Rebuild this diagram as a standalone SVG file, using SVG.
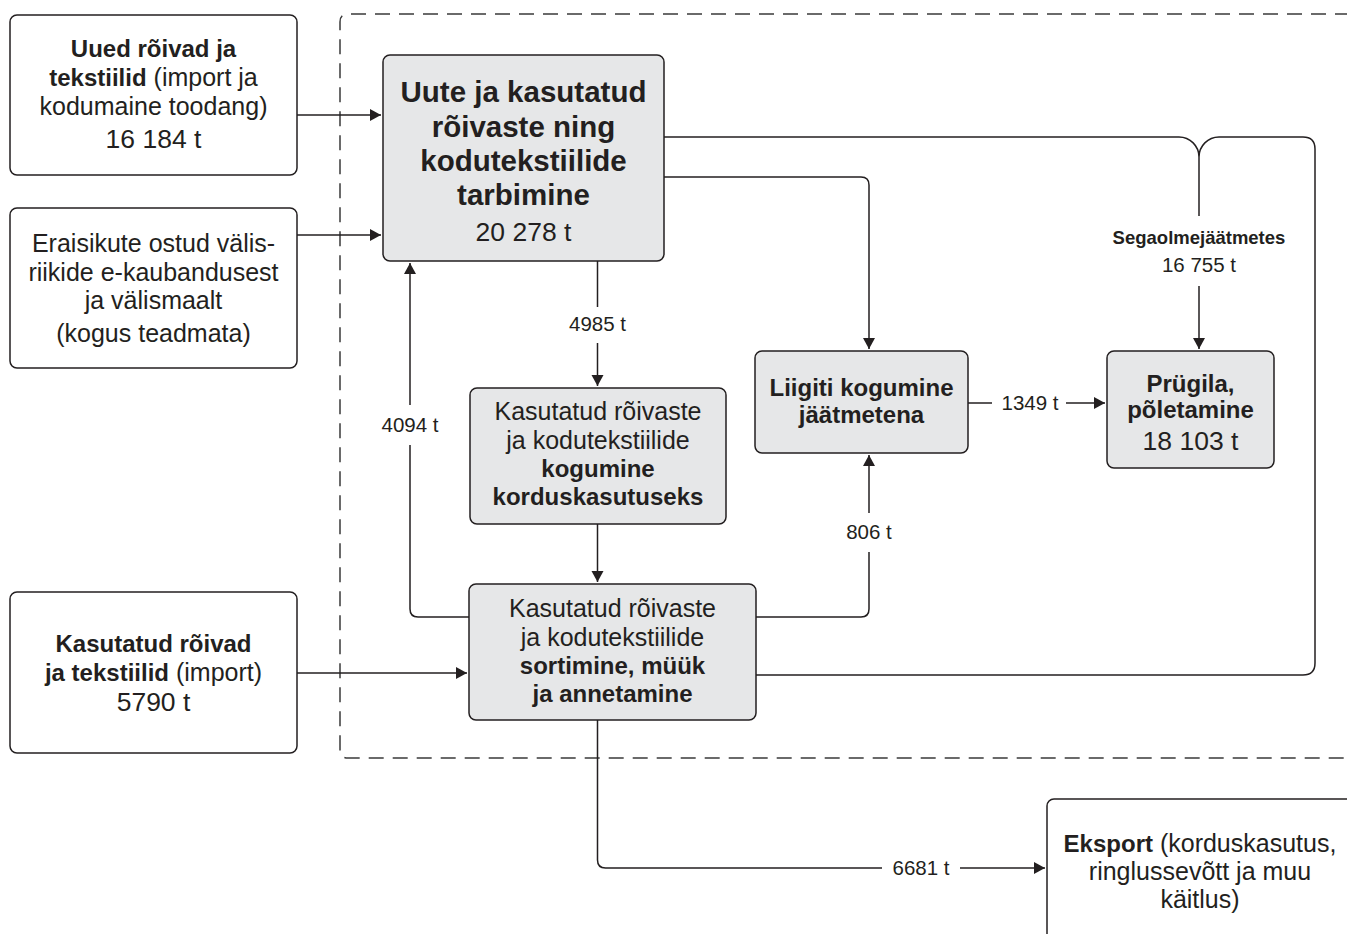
<svg xmlns="http://www.w3.org/2000/svg" width="1347" height="934" viewBox="0 0 1347 934">
<style>
text{font-family:"Liberation Sans",Arial,sans-serif;fill:#231f20;text-anchor:middle}
.b{font-weight:bold}
.r{font-size:25px}
.bb{font-size:24px;font-weight:bold}
.num{font-size:26.5px}
.lbl{font-size:20.5px}
.title{font-size:29.5px;font-weight:bold}
.white{fill:#ffffff;stroke:#231f20;stroke-width:1.5}
.grey{fill:#e6e7e8;stroke:#231f20;stroke-width:1.5}
.c{fill:none;stroke:#231f20;stroke-width:1.5}
.dash{fill:none;stroke:#3a3a3a;stroke-width:1.5;stroke-dasharray:15 9}
</style>
<defs>
<marker id="arr" markerUnits="userSpaceOnUse" markerWidth="13" markerHeight="13" refX="11" refY="6" orient="auto">
<path d="M0,0 L11,6 L0,12 z" fill="#231f20"/>
</marker>
</defs>
<rect width="1347" height="934" fill="#ffffff"/>
<path class="dash" d="M1350,14 H348 Q340,14 340,22 V750 Q340,758 348,758 H1350"/>

<g id="connectors">
<path class="c" d="M297,115 H381" marker-end="url(#arr)"/>
<path class="c" d="M297,235 H381" marker-end="url(#arr)"/>
<path class="c" d="M297,673 H467" marker-end="url(#arr)"/>
<path class="c" d="M664,137 H1179 A20,20 0 0 1 1199,157 A20,20 0 0 1 1219,137 H1303 Q1315,137 1315,149 V663 Q1315,675 1303,675 H756"/>
<path class="c" d="M1199,157 V216"/>
<path class="c" d="M1199,286 V349" marker-end="url(#arr)"/>
<path class="c" d="M664,177 H861 Q869,177 869,185 V349" marker-end="url(#arr)"/>
<path class="c" d="M597.5,261 V307"/>
<path class="c" d="M597.5,343 V386" marker-end="url(#arr)"/>
<path class="c" d="M597.5,524 V582" marker-end="url(#arr)"/>
<path class="c" d="M469,617 H418 Q410,617 410,609 V445"/>
<path class="c" d="M410,405 V263" marker-end="url(#arr)"/>
<path class="c" d="M756,617 H861 Q869,617 869,609 V552"/>
<path class="c" d="M869,513 V455" marker-end="url(#arr)"/>
<path class="c" d="M968,403 H992"/>
<path class="c" d="M1066,403 H1105" marker-end="url(#arr)"/>
<path class="c" d="M597.5,720 V860 Q597.5,868 605.5,868 H882"/>
<path class="c" d="M960,868 H1045" marker-end="url(#arr)"/>
<text class="lbl" x="597.5" y="331">4985 t</text>
<text class="lbl" x="410" y="432">4094 t</text>
<text class="lbl" x="869" y="539">806 t</text>
<text class="lbl" x="1030" y="410">1349 t</text>
<text class="lbl" x="921" y="875">6681 t</text>
<text class="b" x="1199" y="244" style="font-size:18.5px">Segaolmejäätmetes</text>
<text class="lbl" x="1199" y="272">16 755 t</text>
</g>

<g id="uued">
<rect class="white" x="10" y="15" width="287" height="160" rx="7"/>
<text class="bb" x="153.5" y="57">Uued rõivad ja</text>
<text class="r" x="153.5" y="86"><tspan class="bb">tekstiilid</tspan> (import ja</text>
<text class="r" x="153.5" y="115">kodumaine toodang)</text>
<text class="num" x="153.5" y="148">16 184 t</text>
</g>

<g id="eraisikute">
<rect class="white" x="10" y="208" width="287" height="160" rx="7"/>
<text class="r" x="153.5" y="252">Eraisikute ostud välis-</text>
<text class="r" x="153.5" y="281">riikide e-kaubandusest</text>
<text class="r" x="153.5" y="309">ja välismaalt</text>
<text class="r" x="153.5" y="342">(kogus teadmata)</text>
</g>

<g id="kasutatud-import">
<rect class="white" x="10" y="592" width="287" height="161" rx="7"/>
<text class="bb" x="153.5" y="652">Kasutatud rõivad</text>
<text class="r" x="153.5" y="681"><tspan class="bb">ja tekstiilid</tspan> (import)</text>
<text class="num" x="153.5" y="711">5790 t</text>
</g>

<g id="tarbimine">
<rect class="grey" x="383" y="55" width="281" height="206" rx="7"/>
<text class="title" x="523.5" y="102">Uute ja kasutatud</text>
<text class="title" x="523.5" y="137">rõivaste ning</text>
<text class="title" x="523.5" y="171">kodutekstiilide</text>
<text class="title" x="523.5" y="205">tarbimine</text>
<text class="num" x="523.5" y="241">20 278 t</text>
</g>

<g id="kogumine">
<rect class="grey" x="470" y="388" width="256" height="136" rx="7"/>
<text class="r" x="598" y="420">Kasutatud rõivaste</text>
<text class="r" x="598" y="449">ja kodutekstiilide</text>
<text class="bb" x="598" y="477">kogumine</text>
<text class="bb" x="598" y="505">korduskasutuseks</text>
</g>

<g id="sortimine">
<rect class="grey" x="469" y="584" width="287" height="136" rx="7"/>
<text class="r" x="612.5" y="617">Kasutatud rõivaste</text>
<text class="r" x="612.5" y="646">ja kodutekstiilide</text>
<text class="bb" x="612.5" y="674">sortimine, müük</text>
<text class="bb" x="612.5" y="702">ja annetamine</text>
</g>

<g id="liigiti">
<rect class="grey" x="755" y="351" width="213" height="102" rx="7"/>
<text class="bb" x="861.5" y="396">Liigiti kogumine</text>
<text class="bb" x="861.5" y="423">jäätmetena</text>
</g>

<g id="prugila">
<rect class="grey" x="1107" y="351" width="167" height="117" rx="7"/>
<text class="bb" x="1190.5" y="392">Prügila,</text>
<text class="bb" x="1190.5" y="418">põletamine</text>
<text class="num" x="1190.5" y="450">18 103 t</text>
</g>

<g id="eksport">
<rect class="white" x="1047" y="799" width="400" height="200" rx="7"/>
<text class="r" x="1200" y="852"><tspan class="bb">Eksport</tspan> (korduskasutus,</text>
<text class="r" x="1200" y="880">ringlussevõtt ja muu</text>
<text class="r" x="1200" y="908">käitlus)</text>
</g>
</svg>
